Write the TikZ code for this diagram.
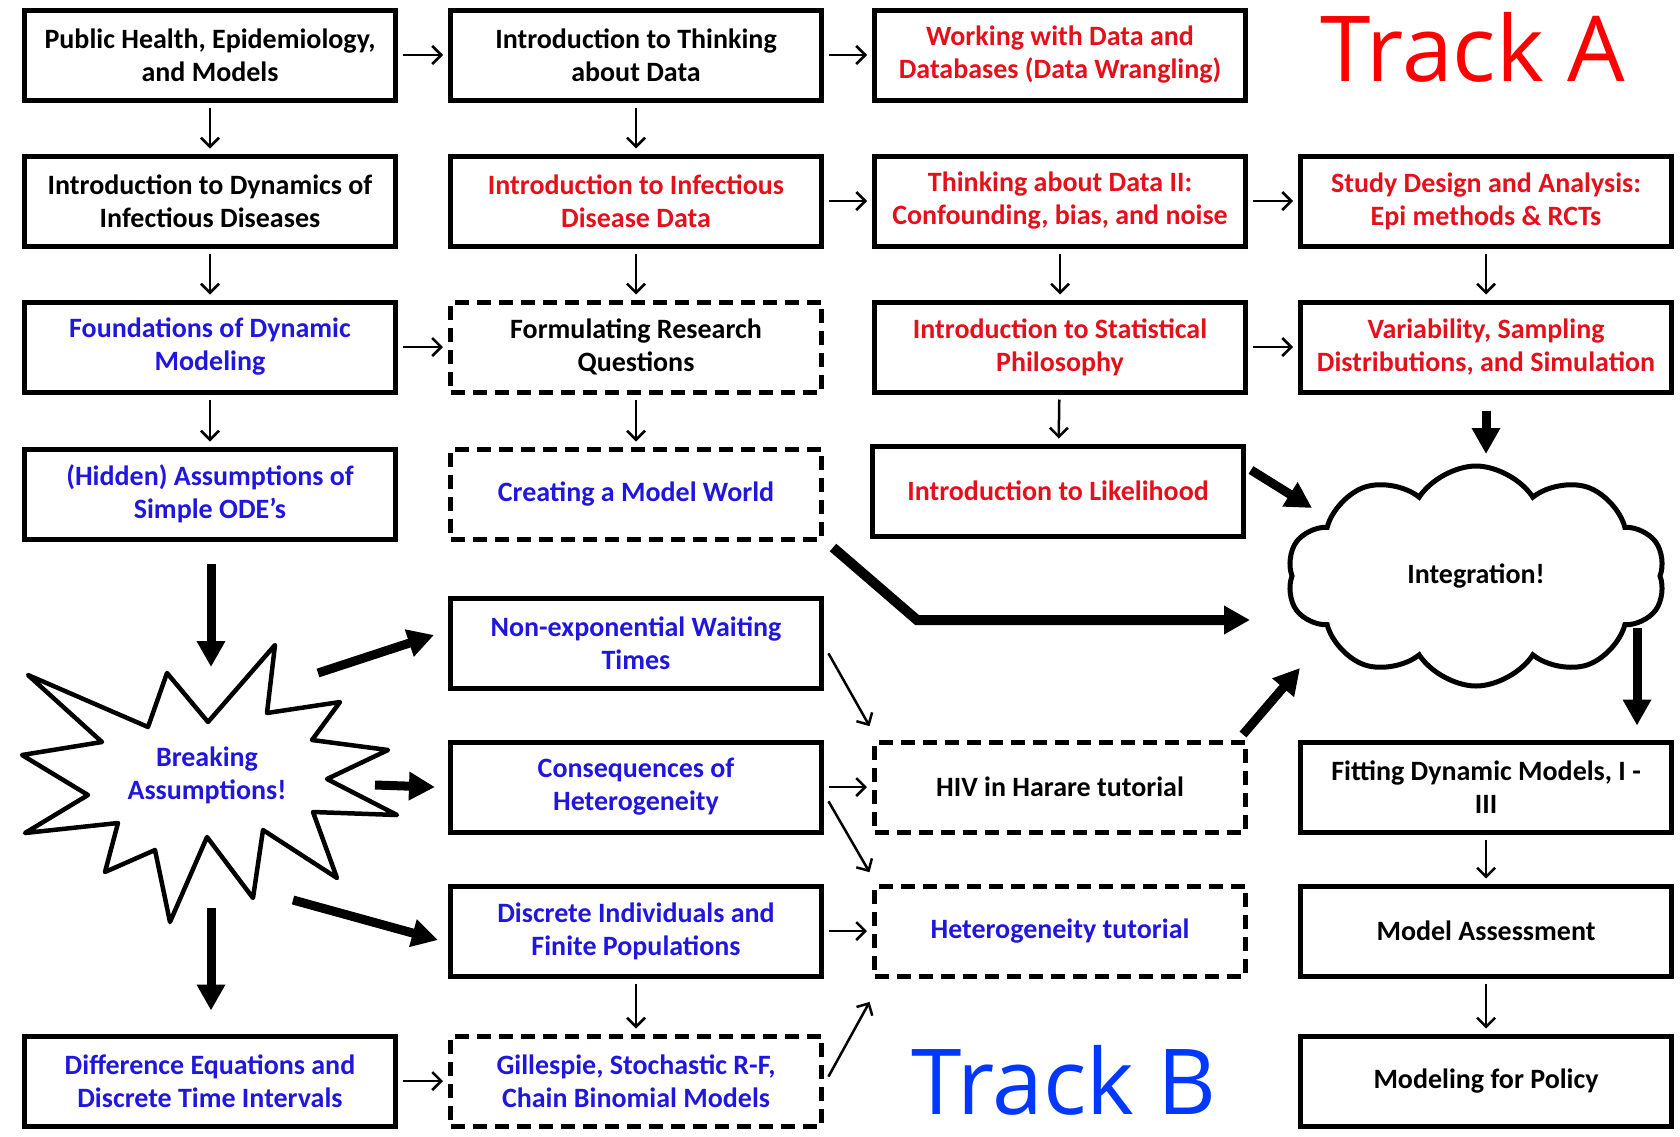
\documentclass[tikz,border=0pt]{standalone}
\usepackage{fontspec}
\setmainfont{Carlito}
\newfontfamily\trackfont{Open Sans}
\usetikzlibrary{arrows.meta,shapes.symbols}
\definecolor{txtred}{RGB}{228,16,28}
\definecolor{txtblue}{RGB}{32,22,222}
\definecolor{trackred}{RGB}{255,0,0}
\definecolor{trackblue}{RGB}{0,56,255}
\newcommand\bxfont{\fontsize{28}{33}\selectfont\bfseries}
\tikzset{
  box/.style={draw, line width=5pt, minimum width=371pt, minimum height=90pt,
    inner sep=0pt, align=center, font=\bxfont},
  dbox/.style={box, dash pattern=on 14pt off 8pt},
  arr/.style={-{Straight Barb[length=9pt,width=18pt]}, line width=2.5pt,
    shorten <=5pt, shorten >=5pt},
  bigarr/.style={-{Triangle[length=26pt,width=27pt]}, line width=9pt},
}
\begin{document}
\begin{tikzpicture}[x=1pt,y=-1pt]
\useasboundingbox (0,0) rectangle (1680,1136);

\node[box] (pub) at (210,55) {Public Health, Epidemiology,\\and Models};
\node[box] (think) at (636,55) {Introduction to Thinking\\about Data};
\node[box, text=txtred] (wrangle) at (1060,55) {Working with Data and\\Databases (Data Wrangling)};
\node[text=trackred, font=\trackfont\fontsize{91}{91}\selectfont] (trackA) at (1473,47) {Track A};

\node[box] (dyn) at (210,201) {Introduction to Dynamics of\\Infectious Diseases};
\node[box, text=txtred] (infdata) at (636,201) {Introduction to Infectious\\Disease Data};
\node[box, text=txtred] (think2) at (1060,201) {Thinking about Data II:\\Confounding, bias, and noise};
\node[box, text=txtred] (study) at (1486,201) {Study Design and Analysis:\\Epi methods \& RCTs};

\node[box, text=txtblue] (found) at (210,347) {Foundations of Dynamic\\Modeling};
\node[dbox] (formq) at (636,347) {Formulating Research\\Questions};
\node[box, text=txtred] (stat) at (1060,347) {Introduction to Statistical\\Philosophy};
\node[box, text=txtred] (var) at (1486,347) {Variability, Sampling\\Distributions, and Simulation};

\node[box, text=txtblue] (hidden) at (210,494) {(Hidden) Assumptions of\\Simple ODE’s};
\node[dbox, text=txtblue] (world) at (636,494) {Creating a Model World};
\node[box, text=txtred] (lik) at (1058,491) {Introduction to Likelihood};

\node[cloud, draw, line width=5pt, cloud puffs=10, cloud puff arc=115, aspect=1.75,
  minimum width=378pt, minimum height=220pt, font=\bxfont] (integ) at (1476,576) {Integration!};

\draw[line width=4.5pt, line join=round, fill=white]
  (275,645) -- (267,713) -- (340,702) -- (312,740) -- (388,750) -- (327,779)
  -- (397,815) -- (313,812) -- (337,878) -- (263,830) -- (253,898) -- (207,837)
  -- (170,922) -- (155,850) -- (105,872) -- (118,823) -- (25,833) -- (88,795)
  -- (22,755) -- (102,742) -- (28,675) -- (148,727) -- (167,673) -- (208,722) -- cycle;
\node[text=txtblue, align=center, font=\bxfont] (brk) at (207,775) {Breaking\\Assumptions!};

\node[box, text=txtblue] (nonexp) at (636,643) {Non-exponential Waiting\\Times};
\node[box, text=txtblue] (hetero) at (636,787) {Consequences of\\Heterogeneity};
\node[dbox] (hiv) at (1060,787) {HIV in Harare tutorial};
\node[box] (fit) at (1486,787) {Fitting Dynamic Models, I -\\III};

\node[box, text=txtblue] (discr) at (636,931) {Discrete Individuals and\\Finite Populations};
\node[dbox, text=txtblue] (hettut) at (1060,931) {Heterogeneity tutorial};
\node[box] (assess) at (1486,931) {Model Assessment};

\node[box, text=txtblue] (diffeq) at (210,1081) {Difference Equations and\\Discrete Time Intervals};
\node[dbox, text=txtblue] (gill) at (636,1081) {Gillespie, Stochastic R-F,\\Chain Binomial Models};
\node[text=trackblue, font=\trackfont\fontsize{91}{91}\selectfont] (trackB) at (1064,1080) {Track B};
\node[box] (policy) at (1486,1081) {Modeling for Policy};

\foreach \a/\b in {pub/think, think/wrangle, pub/dyn, think/infdata, dyn/found,
  infdata/formq, infdata/think2, think2/study, think2/stat, study/var, found/formq,
  stat/var, found/hidden, formq/world, stat/lik, hetero/hiv, discr/hettut,
  discr/gill, diffeq/gill, fit/assess, assess/policy}
  \draw[arr] (\a) -- (\b);
\draw[arr] ([shift={(2,6)}]nonexp.east) -- ([shift={(0,-9)}]hiv.north west);
\draw[arr] ([shift={(2,10)}]hetero.east) -- ([shift={(0,-7)}]hettut.north west);
\draw[arr] ([shift={(2,0)}]gill.east) -- ([shift={(0,19)}]hettut.south west);

\coordinate (brk-in) at (211,667);
\coordinate (brk-ne) at (318,673);
\coordinate (brk-e) at (375,785);
\coordinate (brk-se) at (293,900);
\coordinate (brk-s) at (211,908);
\coordinate (integ-w) at (1250,620);
\coordinate (integ-nw) at (1312,508);
\coordinate (integ-n) at (1486,454);
\coordinate (integ-sw) at (1300,668);
\coordinate (integ-se) at (1637,628);

\draw[bigarr] (hidden.south) ++(1,22) -- (brk-in);
\draw[bigarr] (brk-ne) -- ([shift={(-14,-8)}]nonexp.west);
\draw[bigarr] (brk-e) -- ([shift={(-13,0)}]hetero.west);
\draw[bigarr] (brk-se) -- ([shift={(-10,9)}]discr.west);
\draw[bigarr] (brk-s) -- ([shift={(1,-23)}]diffeq.north);

\draw[bigarr, line width=10pt, line join=miter] ([shift={(9,6)}]world.south east) -- (917,620) -- (integ-w);
\draw[bigarr] ([shift={(5,-21)}]lik.east) -- (integ-nw);
\draw[bigarr] (var.south) ++(0,16) -- (integ-n);
\draw[bigarr] ([shift={(-5,-5)}]hiv.north east) -- (integ-sw);
\draw[bigarr] (integ-se) -- ([shift={(0,-14)}]integ-se |- fit.north);
\end{tikzpicture}
\end{document}
